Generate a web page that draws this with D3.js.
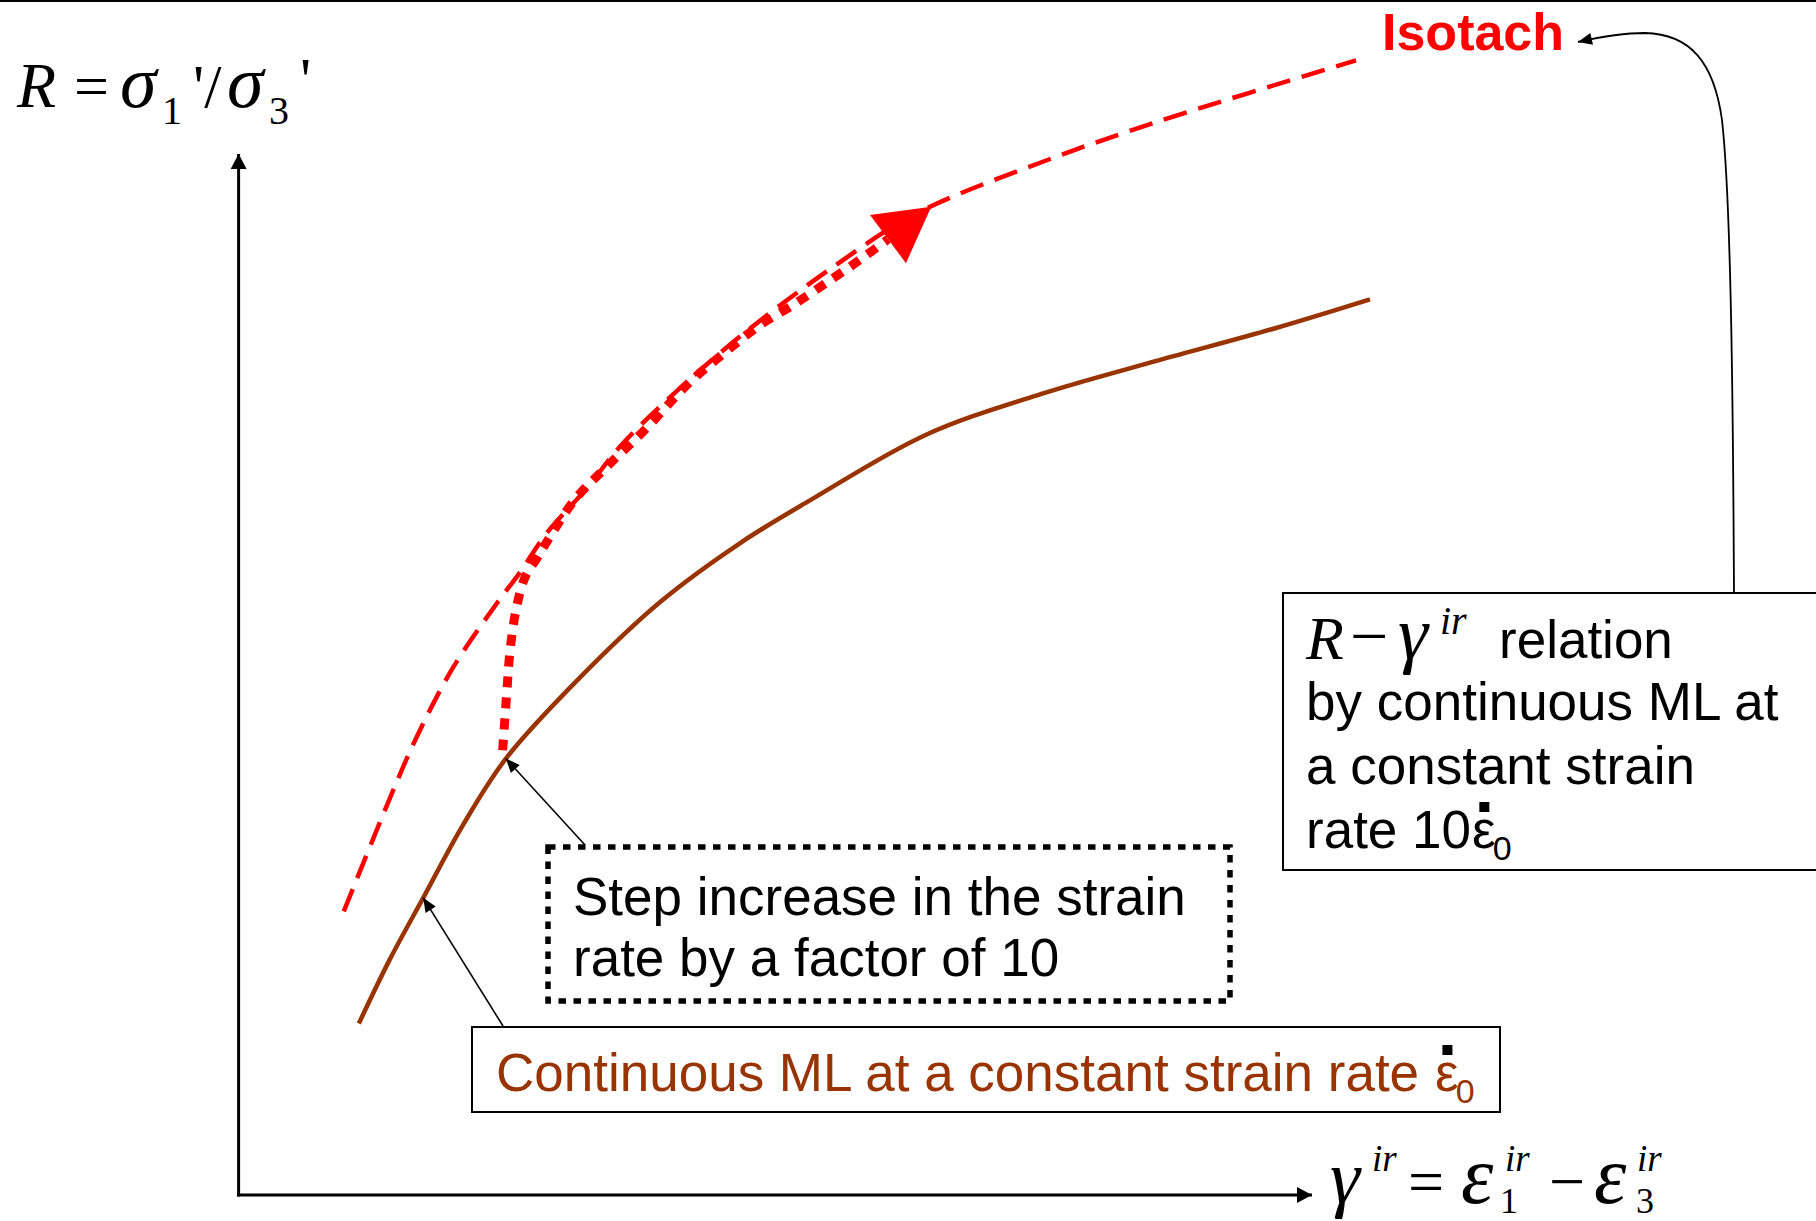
<!DOCTYPE html>
<html>
<head>
<meta charset="utf-8">
<script src="https://cdn.jsdelivr.net/npm/d3@7"></script>
<style>
  html, body { margin: 0; padding: 0; background: #fff; overflow: hidden; }
</style>
</head>
<body>
<svg id="chart" width="1816" height="1221"></svg>
<script>
// Stress ratio R versus irreversible shear strain (arbitrary units)
// Continuous ML at constant strain rate
const mlStrain = [1.12, 1.41, 1.72, 2.09, 2.49, 3.17, 3.93, 4.68, 5.33, 6.41, 7.48, 8.56, 9.65, 10.54];
const mlRatio  = [1.65, 2.27, 2.86, 3.56, 4.20, 4.97, 5.71, 6.28, 6.69, 7.32, 7.71, 8.03, 8.34, 8.62];

// Isotach: continuous ML at ten times the strain rate
const isoStrain = [0.98, 1.43, 1.66, 2.00, 2.41, 2.62, 2.87, 3.25, 3.55, 3.99, 4.68, 5.55, 6.30, 7.48, 8.56, 10.41];
const isoRatio  = [2.73, 3.87, 4.41, 5.08, 5.70, 5.99, 6.37, 6.81, 7.20, 7.65, 8.27, 8.94, 9.44, 9.94, 10.33, 10.92];

// Response after the step increase in strain rate
const stepStrain = [2.46, 2.50, 2.53, 2.59, 2.67, 2.78, 2.88, 3.13, 3.44, 3.78, 4.19, 4.52, 4.84, 5.17, 5.52, 5.80, 6.05];
const stepRatio  = [4.28, 4.86, 5.25, 5.66, 5.95, 6.13, 6.30, 6.69, 7.02, 7.36, 7.81, 8.10, 8.36, 8.57, 8.81, 9.01, 9.20];

// Annotation texts
const isoLabel = "Isotach";
const relationLines = ["relation", "by continuous ML at", "a constant strain", "rate 10"];
const stepLines = ["Step increase in the strain", "rate by a factor of 10"];
const mlLabel = "Continuous ML at a constant strain rate";

const W = 1816, H = 1221;
const SERIF = "'Liberation Serif','Times New Roman',serif";
const SANS = "'Liberation Sans',Arial,sans-serif";
const RED = "#ff0000", BROWN = "#993300";

const svg = d3.select("#chart");
const x = d3.scaleLinear().domain([0, 10]).range([238.6, 1312]);
const y = d3.scaleLinear().domain([0, 10]).range([1195, 156]);

// ---------- markers ----------
const defs = svg.append("defs");
function marker(id, len, half, color, atBase) {
  defs.append("marker")
    .attr("id", id)
    .attr("markerUnits", "userSpaceOnUse")
    .attr("markerWidth", len + 2)
    .attr("markerHeight", 2 * half + 2)
    .attr("viewBox", `-1 ${-half - 1} ${len + 2} ${2 * half + 2}`)
    .attr("refX", atBase ? 0 : len)
    .attr("refY", 0)
    .attr("orient", "auto")
    .append("path")
    .attr("d", `M0,${-half}L${len},0L0,${half}Z`)
    .attr("fill", color);
}
marker("axisHead", 15, 8, "#000", false);
marker("smallHead", 14, 6, "#000", false);
marker("bigRed", 54, 30, RED, true);

// ---------- frame rule at top ----------
svg.append("line")
  .attr("x1", 0).attr("x2", W).attr("y1", 1).attr("y2", 1)
  .attr("stroke", "#000").attr("stroke-width", 2);

// ---------- axes ----------
svg.append("line")
  .attr("x1", x(0)).attr("x2", x(0))
  .attr("y1", y(0) + 1.5).attr("y2", 154)
  .attr("stroke", "#000").attr("stroke-width", 3)
  .attr("marker-end", "url(#axisHead)");
svg.append("line")
  .attr("x1", x(0) - 1.5).attr("x2", x(10))
  .attr("y1", y(0)).attr("y2", y(0))
  .attr("stroke", "#000").attr("stroke-width", 3)
  .attr("marker-end", "url(#axisHead)");

// ---------- curves ----------
const line = d3.line()
  .x(d => x(d[0]))
  .y(d => y(d[1]))
  .curve(d3.curveCatmullRom.alpha(0.5));

const mlPts = mlStrain.map((v, i) => [v, mlRatio[i]]);
const isoPts = isoStrain.map((v, i) => [v, isoRatio[i]]);
const stepPts = stepStrain.map((v, i) => [v, stepRatio[i]]);

svg.append("path")
  .attr("d", line(isoPts))
  .attr("fill", "none")
  .attr("stroke", RED)
  .attr("stroke-width", 4.5)
  .attr("stroke-dasharray", "24,12");

svg.append("path")
  .attr("d", line(stepPts))
  .attr("fill", "none")
  .attr("stroke", RED)
  .attr("stroke-width", 9)
  .attr("stroke-dasharray", "11,10")
  .attr("marker-end", "url(#bigRed)");

svg.append("path")
  .attr("d", line(mlPts))
  .attr("fill", "none")
  .attr("stroke", BROWN)
  .attr("stroke-width", 4.5);

// ---------- y axis label: R = σ1'/σ3' ----------
const yLab = [
  { t: "R", x: 17, y: 107, s: 64, i: true },
  { t: "=", x: 74, y: 107, s: 62, i: false },
  { t: "σ", x: 120, y: 107, s: 74, i: true },
  { t: "1", x: 162, y: 124, s: 40, i: false },
  { t: "'/", x: 193, y: 107, s: 62, i: false },
  { t: "σ", x: 227, y: 107, s: 74, i: true },
  { t: "3", x: 269, y: 124, s: 40, i: false },
  { t: "'", x: 300, y: 100, s: 62, i: false }
];
// ---------- x axis label: γir = ε1ir − ε3ir ----------
const xLab = [
  { t: "γ", x: 1330, y: 1203, s: 76, i: true },
  { t: "ir", x: 1372, y: 1171, s: 37, i: true },
  { t: "=", x: 1408, y: 1203, s: 64, i: false },
  { t: "ε", x: 1461, y: 1203, s: 82, i: true },
  { t: "ir", x: 1505, y: 1171, s: 37, i: true },
  { t: "1", x: 1500, y: 1213, s: 36, i: false },
  { t: "−", x: 1549, y: 1203, s: 64, i: false },
  { t: "ε", x: 1594, y: 1203, s: 82, i: true },
  { t: "ir", x: 1637, y: 1171, s: 37, i: true },
  { t: "3", x: 1636, y: 1213, s: 36, i: false }
];
// ---------- R − γir in the relation box ----------
const relMath = [
  { t: "R", x: 1306, y: 659, s: 62, i: true },
  { t: "−", x: 1350, y: 659, s: 68, i: false },
  { t: "γ", x: 1398, y: 659, s: 76, i: true },
  { t: "ir", x: 1440, y: 634, s: 40, i: true }
];
function glyphs(list) {
  svg.append("g").selectAll("text").data(list).join("text")
    .attr("x", d => d.x).attr("y", d => d.y)
    .attr("font-family", SERIF)
    .attr("font-size", d => d.s)
    .attr("font-style", d => d.i ? "italic" : "normal")
    .attr("fill", "#000")
    .text(d => d.t);
}
glyphs(yLab);
glyphs(xLab);

// ---------- Isotach label and connector ----------
svg.append("text")
  .attr("x", 1382).attr("y", 50)
  .attr("font-family", SANS).attr("font-weight", "bold")
  .attr("font-size", 52).attr("fill", RED)
  .text(isoLabel);

svg.append("path")
  .attr("d", "M1734,593 C1733,400 1731,200 1722,120 C1714,62 1690,34 1645,33 C1620,33 1600,37 1578,42")
  .attr("fill", "none").attr("stroke", "#000").attr("stroke-width", 1.8)
  .attr("marker-end", "url(#smallHead)");

// ---------- relation box ----------
svg.append("rect")
  .attr("x", 1283).attr("y", 593).attr("width", 620).attr("height", 277)
  .attr("fill", "#fff").attr("stroke", "#000").attr("stroke-width", 2);
glyphs(relMath);

const relText = svg.append("g").attr("font-family", SANS).attr("font-size", 53).attr("fill", "#000");
relText.append("text").attr("x", 1499).attr("y", 658).text(relationLines[0]);
relText.append("text").attr("x", 1306).attr("y", 720).text(relationLines[1]);
relText.append("text").attr("x", 1306).attr("y", 784).text(relationLines[2]);
const rateTxt = relText.append("text").attr("x", 1306).attr("y", 848).text(relationLines[3]);

// ε̇0 written after a text element: epsilon, subscript 0 and a square dot
function epsDot(afterNode, gap, baseY, color) {
  const bb = afterNode.getBBox();
  const ex = bb.x + bb.width + gap;
  const e = svg.append("text")
    .attr("x", ex).attr("y", baseY)
    .attr("font-family", SANS).attr("font-size", 53).attr("fill", color)
    .text("ε");
  const eb = e.node().getBBox();
  svg.append("text")
    .attr("x", ex + eb.width - 3).attr("y", baseY + 12)
    .attr("font-family", SANS).attr("font-size", 34).attr("fill", color)
    .text("0");
  svg.append("rect")
    .attr("x", ex + eb.width / 2 - 4.5).attr("y", baseY - 46)
    .attr("width", 10).attr("height", 10).attr("fill", "#000");
}
epsDot(rateTxt.node(), 1, 848, "#000");

// ---------- step increase box ----------
svg.append("rect")
  .attr("x", 548).attr("y", 847).attr("width", 682).attr("height", 154)
  .attr("fill", "none").attr("stroke", "#000").attr("stroke-width", 5.5)
  .attr("stroke-dasharray", "7.5,7.5");
const stepText = svg.append("g").attr("font-family", SANS).attr("font-size", 53).attr("fill", "#000");
stepLines.forEach((t, i) => {
  stepText.append("text").attr("x", 573).attr("y", 915 + i * 61).text(t);
});

// ---------- continuous ML box ----------
svg.append("rect")
  .attr("x", 472).attr("y", 1027).attr("width", 1028).attr("height", 85)
  .attr("fill", "#fff").attr("stroke", "#000").attr("stroke-width", 2);
const mlTxt = svg.append("text")
  .attr("x", 496).attr("y", 1091)
  .attr("font-family", SANS).attr("font-size", 53).attr("fill", BROWN)
  .text(mlLabel);
epsDot(mlTxt.node(), 16, 1091, BROWN);

// ---------- pointers to the ML curve ----------
svg.append("line")
  .attr("x1", 585).attr("y1", 845)
  .attr("x2", x(mlStrain[4])).attr("y2", y(mlRatio[4]))
  .attr("stroke", "#000").attr("stroke-width", 1.6)
  .attr("marker-end", "url(#smallHead)");
svg.append("line")
  .attr("x1", 503).attr("y1", 1026)
  .attr("x2", x(mlStrain[2])).attr("y2", y(mlRatio[2]))
  .attr("stroke", "#000").attr("stroke-width", 1.6)
  .attr("marker-end", "url(#smallHead)");
</script>
</body>
</html>
